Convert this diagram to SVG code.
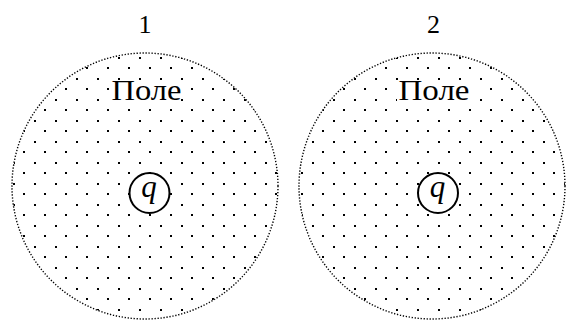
<svg xmlns="http://www.w3.org/2000/svg" width="566" height="322" viewBox="0 0 566 322">
<style>
.lbl{font-family:'Liberation Serif','Times New Roman',serif;fill:#000}
.num{font-size:26px}
.pole{font-size:29px}
.q{font-size:31px;font-style:italic}
.field{stroke:#000;stroke-width:1.4;stroke-dasharray:1.3 1.7}
.charge{fill:#fff;stroke:#000;stroke-width:2}
.d{fill:#000;shape-rendering:crispEdges}
</style>
<defs>
<pattern id="dots1" patternUnits="userSpaceOnUse" x="-2" y="0" width="21" height="21">
<rect class="d" x="4" y="4" width="2.3" height="2.3"/>
<rect class="d" x="15" y="15" width="2.3" height="2.3"/>
</pattern>
<pattern id="dots2" patternUnits="userSpaceOnUse" x="3" y="0" width="21" height="21">
<rect class="d" x="4" y="4" width="1.6" height="2.2"/>
<rect class="d" x="15" y="15" width="1.6" height="2.2"/>
</pattern>
</defs>
<g id="field1">
<circle class="field" cx="145" cy="186" r="133" fill="url(#dots1)"/>
<text class="lbl num" x="145" y="33" text-anchor="middle">1</text>
<rect x="110" y="81" width="70" height="22" fill="#fff"/>
<text class="lbl pole" x="111.5" y="100" textLength="70" lengthAdjust="spacingAndGlyphs">Поле</text>
</g>
<g id="charge1">
<circle class="charge" cx="149.5" cy="193" r="20"/>
<text class="lbl q" x="149" y="197" text-anchor="middle">q</text>
</g>
<g id="field2">
<circle class="field" cx="432" cy="186" r="133" fill="url(#dots2)"/>
<text class="lbl num" x="433.5" y="33" text-anchor="middle">2</text>
<rect x="397" y="81" width="74" height="22" fill="#fff"/>
<text class="lbl pole" x="398.5" y="100" textLength="71" lengthAdjust="spacingAndGlyphs">Поле</text>
</g>
<g id="charge2">
<circle class="charge" cx="438" cy="193" r="20"/>
<text class="lbl q" x="437.5" y="197" text-anchor="middle">q</text>
</g>
<g id="connectors"></g>
</svg>
